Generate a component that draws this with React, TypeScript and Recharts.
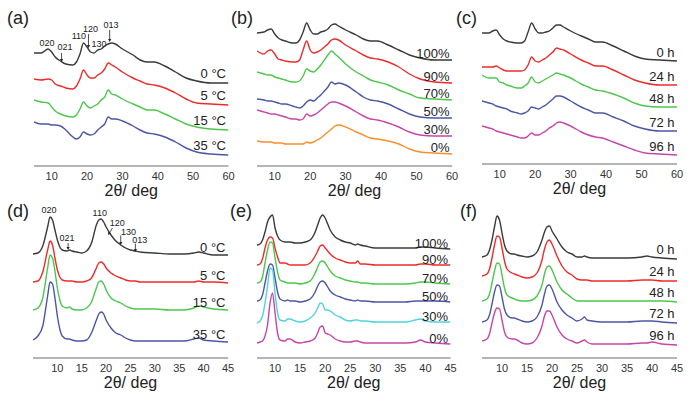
import React from 'react';
import { LineChart, Line, XAxis, YAxis, ReferenceLine, ReferenceDot, Label } from 'recharts';

const FONT = '"Liberation Sans", Arial, Helvetica, sans-serif';
const FRAME = '#6b6b6b';
const COL = {
  black: '#3a3a3a', red: '#ee2b2b', green: '#4cc74c', blue: '#4b56a6',
  magenta: '#c745a8', orange: '#f7902a', cyan: '#4fd3dc',
};

// ---------- Panel (a): temperature, wide range ----------
const xA = [5, 7, 9, 10, 11, 12.5, 14, 16, 17, 18, 19, 20, 21, 22, 23, 24, 25, 26, 27, 28, 30, 33, 35, 37, 39, 42, 45, 48, 51, 55, 60];
const a0C = [113, 113, 117, 114, 109, 105, 102, 101, 104, 112, 123, 119, 114, 113, 116, 117, 120, 122, 123, 122, 117, 111, 106, 104, 104, 100, 94, 88, 85, 83, 83];
const a5C = [87, 86, 87, 86, 82, 80, 78, 77, 80, 87, 96, 91, 88, 88, 91, 93, 97, 103, 101, 99, 94, 88, 85, 82, 81, 78, 73, 67, 63, 62, 61];
const a15C = [66, 64, 63, 59, 55, 52, 50, 49, 51, 57, 64, 60, 58, 60, 62, 66, 69, 76, 72, 71, 67, 62, 59, 56, 56, 52, 47, 42, 39, 37, 36];
const a35C = [44, 42, 42, 41, 41, 40, 36, 29, 27, 29, 34, 32, 31, 32, 36, 39, 42, 49, 47, 47, 45, 40, 36, 33, 32, 29, 24, 18, 14, 12, 11];
const tempLabels = ['0 °C', '5 °C', '15 °C', '35 °C'];

// ---------- Panel (b): humidity, wide range ----------
const xB = [5, 7, 8, 9, 10, 11, 12, 13, 15, 16, 17, 18, 19, 20, 21, 22, 23, 24, 25, 26, 27, 28, 30, 33, 35, 37, 39, 42, 45, 48, 51, 55, 60];
const b100 = [133, 134, 136, 137, 132, 128, 126, 125, 123, 123, 126, 134, 143, 136, 132, 132, 134, 135, 137, 141, 142, 140, 136, 131, 127, 125, 125, 121, 116, 111, 108, 106, 106];
const b90 = [115, 112, 115, 116, 112, 107, 106, 105, 104, 104, 106, 116, 125, 116, 113, 114, 116, 119, 122, 126, 127, 126, 121, 115, 111, 108, 107, 104, 99, 92, 87, 84, 83];
const b70 = [94, 92, 91, 91, 89, 88, 87, 86, 84, 84, 85, 90, 97, 95, 94, 97, 101, 106, 111, 115, 112, 109, 102, 94, 90, 86, 84, 81, 76, 72, 68, 67, 66];
const b50 = [67, 66, 65, 65, 64, 63, 62, 62, 60, 59, 58, 60, 64, 66, 65, 68, 71, 75, 79, 84, 82, 83, 81, 74, 69, 66, 65, 62, 57, 52, 49, 48, 48];
const b30 = [56, 54, 53, 52, 52, 51, 50, 49, 47, 47, 46, 47, 52, 50, 51, 53, 56, 59, 62, 64, 64, 63, 60, 54, 50, 47, 46, 43, 39, 34, 31, 30, 30];
const b0 = [25, 24, 24, 24, 23, 23, 23, 22, 22, 22, 22, 22, 24, 23, 24, 26, 28, 31, 34, 37, 40, 41, 39, 34, 31, 28, 27, 25, 22, 17, 14, 13, 12];
const humLabels = ['100%', '90%', '70%', '50%', '30%', '0%'];

// ---------- Panel (c): time, wide range ----------
const xC = xB;
const c0 = [131, 131, 133, 134, 129, 125, 123, 122, 121, 121, 123, 132, 141, 135, 131, 131, 132, 133, 136, 139, 139, 137, 133, 128, 125, 122, 122, 118, 113, 108, 105, 104, 103];
const c24 = [97, 97, 97, 98, 96, 94, 93, 93, 93, 93, 94, 99, 107, 103, 102, 104, 106, 109, 112, 116, 115, 114, 110, 104, 101, 98, 98, 94, 89, 84, 81, 79, 79];
const c48 = [89, 86, 86, 86, 82, 81, 79, 78, 76, 76, 78, 81, 87, 82, 81, 83, 85, 87, 89, 91, 90, 89, 86, 80, 77, 74, 73, 70, 66, 61, 58, 57, 57];
const c72 = [63, 61, 60, 58, 57, 56, 55, 53, 51, 50, 51, 53, 57, 56, 55, 57, 59, 62, 65, 68, 68, 67, 63, 57, 54, 51, 51, 47, 43, 38, 35, 33, 33];
const c96 = [38, 36, 35, 33, 32, 31, 30, 29, 27, 26, 26, 28, 31, 29, 29, 31, 33, 36, 38, 41, 42, 41, 38, 32, 29, 27, 26, 22, 18, 14, 11, 10, 9];
const timeLabels = ['0 h', '24 h', '48 h', '72 h', '96 h'];

// ---------- Panel (d): temperature, narrow range ----------
const xD = [5, 6, 7, 8, 8.5, 9, 9.5, 10, 10.5, 11, 12, 12.5, 13, 14, 15, 16, 17, 18, 18.5, 19, 19.5, 20, 21, 22, 23, 24, 25, 26, 27, 30, 33, 36, 38, 39, 40, 42, 45];
const d0C = [104, 105, 112, 131, 141, 138, 128, 118, 111, 108, 107, 108, 107, 106, 105, 107, 115, 133, 138, 139, 136, 131, 123, 117, 113, 110, 108, 107, 106, 105, 104, 104, 105, 106, 105, 103, 103];
const d5C = [76, 77, 86, 108, 117, 113, 100, 88, 81, 78, 77, 77, 77, 76, 76, 77, 80, 90, 95, 96, 94, 90, 85, 82, 80, 78, 77, 77, 76, 76, 76, 76, 76, 77, 76, 76, 75];
const d15C = [48, 50, 60, 90, 103, 100, 87, 70, 58, 52, 50, 51, 49, 48, 48, 50, 56, 70, 76, 77, 74, 68, 60, 57, 55, 52, 50, 49, 49, 49, 48, 48, 50, 52, 51, 49, 48];
const d35C = [18, 22, 32, 62, 76, 74, 60, 42, 29, 22, 19, 19, 18, 17, 17, 18, 25, 38, 44, 46, 44, 38, 30, 25, 23, 20, 18, 17, 17, 17, 17, 17, 19, 20, 18, 17, 16];

// ---------- Panel (e): humidity, narrow range ----------
const xE = [6.4, 7, 7.5, 8, 8.5, 9, 9.5, 10, 10.5, 11, 12, 12.5, 13, 14, 15, 16, 17, 18, 18.5, 19, 19.5, 20, 20.5, 21, 22, 23, 24, 25, 26, 26.5, 27, 28, 30, 33, 36, 38, 39, 40, 42, 45];
const e100 = [113, 114, 118, 126, 136, 141, 143, 130, 122, 118, 116, 116, 116, 115, 115, 116, 118, 126, 133, 140, 143, 140, 134, 128, 121, 118, 116, 115, 113, 114, 113, 112, 110, 110, 110, 110, 111, 111, 110, 109];
const e90 = [93, 94, 99, 110, 118, 121, 120, 110, 101, 95, 95, 94, 93, 93, 93, 93, 95, 102, 107, 112, 113, 110, 107, 104, 100, 98, 96, 95, 95, 97, 94, 94, 93, 93, 93, 93, 94, 94, 93, 93];
const e70 = [75, 76, 81, 95, 108, 116, 115, 100, 86, 78, 76, 75, 75, 75, 74, 75, 77, 85, 91, 96, 97, 95, 91, 87, 82, 80, 78, 77, 76, 76, 75, 75, 74, 74, 74, 75, 76, 76, 75, 74];
const e50 = [57, 58, 63, 75, 87, 94, 93, 80, 66, 59, 57, 58, 57, 57, 56, 57, 59, 66, 72, 76, 77, 75, 71, 67, 63, 61, 59, 58, 57, 58, 57, 57, 56, 56, 56, 57, 57, 57, 57, 56];
const e30 = [35, 37, 42, 55, 72, 90, 88, 65, 45, 38, 37, 39, 39, 37, 36, 37, 40, 45, 50, 55, 54, 48, 48, 47, 43, 41, 38, 37, 38, 38, 37, 37, 36, 36, 36, 38, 39, 37, 36, 36];
const e0 = [15, 16, 17, 22, 33, 55, 65, 45, 25, 18, 17, 19, 19, 16, 15, 16, 17, 20, 25, 31, 32, 25, 24, 23, 19, 17, 16, 16, 17, 17, 16, 15, 15, 15, 15, 16, 18, 16, 15, 14];

// ---------- Panel (f): time, narrow range ----------
const xF = [6, 7, 7.5, 8, 8.5, 9, 9.5, 10, 10.5, 11, 12, 12.5, 13, 14, 15, 16, 17, 18, 18.5, 19, 19.5, 20, 21, 22, 23, 24, 25, 26, 26.5, 27, 28, 30, 35, 38, 39, 40, 42, 45];
const f0 = [101, 103, 108, 118, 131, 142, 138, 125, 113, 107, 104, 104, 103, 102, 101, 102, 106, 118, 126, 131, 132, 127, 119, 111, 106, 104, 101, 101, 102, 101, 100, 100, 100, 101, 102, 101, 100, 99];
const f24 = [82, 84, 89, 100, 113, 122, 121, 110, 97, 89, 85, 84, 83, 81, 80, 81, 85, 98, 109, 116, 118, 114, 102, 92, 86, 83, 79, 78, 78, 78, 77, 77, 77, 78, 78, 78, 77, 77];
const f48 = [57, 59, 64, 75, 87, 95, 94, 83, 70, 63, 60, 59, 58, 57, 57, 58, 62, 73, 84, 91, 92, 88, 76, 68, 64, 60, 57, 57, 57, 57, 57, 57, 57, 57, 57, 57, 57, 56];
const f72 = [36, 38, 43, 54, 66, 73, 72, 61, 49, 43, 40, 40, 39, 37, 36, 37, 41, 53, 64, 72, 73, 69, 56, 48, 43, 40, 37, 39, 41, 38, 37, 36, 36, 37, 37, 37, 36, 35];
const f96 = [17, 19, 24, 35, 45, 50, 49, 38, 26, 21, 19, 19, 18, 15, 14, 15, 20, 32, 42, 47, 47, 43, 31, 23, 19, 17, 15, 17, 18, 16, 14, 14, 14, 15, 15, 16, 14, 13];

// ---------- ticks ----------
const majorWide = [10, 20, 30, 40, 50, 60];
const minorWide = [5, 15, 25, 35, 45, 55];
const majorNarrow = [10, 15, 20, 25, 30, 35, 40, 45];
const minorNarrow = [7.5, 12.5, 17.5, 22.5, 27.5, 32.5, 37.5, 42.5];

// ---------- reflection annotations (data coordinates) ----------
const hklA = [
  { t: '020', x: 8.7, y: 120 }, { t: '021', x: 13.8, y: 116 }, { t: '110', x: 17.7, y: 127 },
  { t: '120', x: 21.0, y: 134 }, { t: '130', x: 23.4, y: 119 }, { t: '013', x: 26.8, y: 138 },
];
const arrowsA = [
  { x1: 12.8, y1: 113, x2: 12.8, y2: 104 },
  { x1: 20.4, y1: 132, x2: 20.4, y2: 118 },
  { x1: 26.4, y1: 136, x2: 26.4, y2: 124 },
];
const hklD = [
  { t: '020', x: 8.3, y: 145 }, { t: '021', x: 12.0, y: 117 }, { t: '110', x: 18.7, y: 142 },
  { t: '120', x: 22.3, y: 132 }, { t: '130', x: 24.6, y: 123.5 }, { t: '013', x: 26.9, y: 115.5 },
];
const arrowsD = [
  { x1: 12.2, y1: 115, x2: 12.2, y2: 108 },
  { x1: 21.3, y1: 130, x2: 20.4, y2: 123 },
  { x1: 23.0, y1: 122.5, x2: 23.0, y2: 113 },
  { x1: 26.0, y1: 114.5, x2: 26.0, y2: 106 },
];

const mk = (keys: string[], names: string[], colors: string[], vals: number[][]) =>
  keys.map((k, i) => ({ key: k, name: names[i], color: colors[i], values: vals[i] }));

const panels = [
  {
    id: 'a', x: xA, domain: [5, 60], major: majorWide, minor: minorWide,
    box: { left: 33.5, top: 10, w: 194.5, h: 156 }, labelDy: 5,
    series: mk(['s0', 's5', 's15', 's35'], tempLabels, [COL.black, COL.red, COL.green, COL.blue], [a0C, a5C, a15C, a35C]),
    hkl: hklA, arrows: arrowsA,
  },
  {
    id: 'b', x: xB, domain: [5, 60], major: majorWide, minor: minorWide,
    box: { left: 256.5, top: 12, w: 195, h: 154 }, labelDy: 2,
    series: mk(['h100', 'h90', 'h70', 'h50', 'h30', 'h0'], humLabels,
      [COL.black, COL.red, COL.green, COL.blue, COL.magenta, COL.orange], [b100, b90, b70, b50, b30, b0]),
    hkl: [], arrows: [],
  },
  {
    id: 'c', x: xC, domain: [5, 60], major: majorWide, minor: minorWide,
    box: { left: 481.5, top: 10, w: 195, h: 154 }, labelDy: 4,
    series: mk(['t0', 't24', 't48', 't72', 't96'], timeLabels,
      [COL.black, COL.red, COL.green, COL.blue, COL.magenta], [c0, c24, c48, c72, c96]),
    hkl: [], arrows: [],
  },
  {
    id: 'd', x: xD, domain: [5, 45], major: majorNarrow, minor: minorNarrow,
    box: { left: 33, top: 208, w: 195, h: 150 }, labelDy: 3.5,
    series: mk(['s0', 's5', 's15', 's35'], tempLabels, [COL.black, COL.red, COL.green, COL.blue], [d0C, d5C, d15C, d35C]),
    hkl: hklD, arrows: arrowsD,
  },
  {
    id: 'e', x: xE, domain: [6.4, 45], major: majorNarrow, minor: minorNarrow,
    box: { left: 256.5, top: 205, w: 193.5, h: 153 }, labelDy: 1.2,
    series: mk(['h100', 'h90', 'h70', 'h50', 'h30', 'h0'], humLabels,
      [COL.black, COL.red, COL.green, COL.blue, COL.cyan, COL.magenta], [e100, e90, e70, e50, e30, e0]),
    hkl: [], arrows: [],
  },
  {
    id: 'f', x: xF, domain: [6, 45], major: majorNarrow, minor: minorNarrow,
    box: { left: 481.5, top: 205, w: 195, h: 153 }, labelDy: 5,
    series: mk(['t0', 't24', 't48', 't72', 't96'], timeLabels,
      [COL.black, COL.red, COL.green, COL.blue, COL.magenta], [f0, f24, f48, f72, f96]),
    hkl: [], arrows: [],
  },
];

const panelLetters = [
  { t: '(a)', x: 7, y: 23.5 }, { t: '(b)', x: 231, y: 23.5 }, { t: '(c)', x: 456, y: 23.5 },
  { t: '(d)', x: 7, y: 216.5 }, { t: '(e)', x: 230, y: 216.5 }, { t: '(f)', x: 460, y: 216.5 },
];

const titleContent = (props: any) => {
  const vb = props.viewBox || { x: 0, y: 0, width: 0 };
  return (
    <text x={vb.x + vb.width / 2} y={vb.y + 30} textAnchor="middle" fontSize={16} fill="#222" fontFamily={FONT}>
      2θ/ deg
    </text>
  );
};

const seriesLabel = (dy: number) => (props: any) => {
  const vb = props.viewBox || { x: 0, y: 0, width: 0, height: 0 };
  const cx = vb.x + (vb.width || 0) / 2;
  const cy = vb.y + (vb.height || 0) / 2;
  return (
    <text x={cx - 2.5} y={cy - dy} textAnchor="end" fontSize={13} fill="#222" fontFamily={FONT}>
      {props.value}
    </text>
  );
};

const hklLabel = (props: any) => {
  const vb = props.viewBox || { x: 0, y: 0, width: 0, height: 0 };
  const cx = vb.x + (vb.width || 0) / 2;
  const cy = vb.y + (vb.height || 0) / 2;
  return (
    <text x={cx} y={cy} textAnchor="middle" fontSize={9} fill="#222" fontFamily={FONT}>
      {props.value}
    </text>
  );
};

const arrowShape = (props: any) => {
  const { x1, y1, x2, y2 } = props;
  if ([x1, y1, x2, y2].some((v) => typeof v !== 'number' || isNaN(v))) return <g />;
  const ang = Math.atan2(y2 - y1, x2 - x1);
  const s = 3;
  const w = 1.6;
  const bx = x2 - s * Math.cos(ang);
  const by = y2 - s * Math.sin(ang);
  const px = -Math.sin(ang) * w;
  const py = Math.cos(ang) * w;
  return (
    <g>
      <line x1={x1} y1={y1} x2={bx} y2={by} stroke="#222" strokeWidth={0.8} />
      <polygon points={`${x2},${y2} ${bx + px},${by + py} ${bx - px},${by - py}`} fill="#222" />
    </g>
  );
};

function Panel({ p }: any) {
  const data = p.x.map((x: number, i: number) => {
    const row: any = { x };
    p.series.forEach((s: any) => { row[s.key] = s.values[i]; });
    return row;
  });
  const mL = 14, mR = 14, mT = 4, xH = 36;
  const W = p.box.w + mL + mR;
  const H = p.box.h + mT + xH;
  const xMax = p.domain[1];
  const tickStyle = { fontSize: 11, fill: '#333', fontFamily: FONT };
  const yDom = [0, p.box.h];
  return (
    <div style={{ position: 'absolute', left: p.box.left - mL, top: p.box.top - mT, width: W, height: H }}>
      <LineChart width={W} height={H} data={data} margin={{ top: mT, right: mR, bottom: 0, left: mL }}>
        <XAxis xAxisId="b" dataKey="x" type="number" domain={p.domain} allowDataOverflow ticks={p.major}
          interval={0} height={xH} tickLine={false} tickSize={0} tickMargin={6}
          axisLine={{ stroke: FRAME, strokeWidth: 1 }} tick={tickStyle}>
          <Label value="2θ/ deg" content={titleContent} />
        </XAxis>
        <XAxis xAxisId="bM" type="number" domain={p.domain} allowDataOverflow ticks={p.major} interval={0}
          mirror height={0} tick={false} tickSize={4} axisLine={false} tickLine={{ stroke: FRAME }} />
        <XAxis xAxisId="bm" type="number" domain={p.domain} allowDataOverflow ticks={p.minor} interval={0}
          mirror height={0} tick={false} tickSize={2} axisLine={false} tickLine={{ stroke: FRAME }} />
        <XAxis xAxisId="tM" orientation="top" type="number" domain={p.domain} allowDataOverflow ticks={p.major}
          interval={0} mirror height={0} tick={false} tickSize={4} axisLine={{ stroke: FRAME }} tickLine={{ stroke: FRAME }} />
        <XAxis xAxisId="tm" orientation="top" type="number" domain={p.domain} allowDataOverflow ticks={p.minor}
          interval={0} mirror height={0} tick={false} tickSize={2} axisLine={false} tickLine={{ stroke: FRAME }} />
        <YAxis yAxisId="l" type="number" domain={yDom} allowDataOverflow width={0} tick={false} tickLine={false}
          axisLine={{ stroke: FRAME }} />
        <YAxis yAxisId="r" orientation="right" mirror type="number" domain={yDom} allowDataOverflow width={0}
          tick={false} tickLine={false} axisLine={{ stroke: FRAME }} />
        {p.series.map((s: any) => (
          <Line key={s.key} xAxisId="b" yAxisId="l" dataKey={s.key} type="monotone" stroke={s.color}
            strokeWidth={1.4} dot={false} activeDot={false} isAnimationActive={false} />
        ))}
        {p.series.map((s: any) => (
          <ReferenceDot key={'lab-' + s.key} xAxisId="b" yAxisId="l" x={xMax} y={s.values[s.values.length - 1]}
            r={0} fill="none" stroke="none" ifOverflow="visible"
            label={{ value: s.name, content: seriesLabel(p.labelDy) }} />
        ))}
        {p.arrows.map((a: any, i: number) => (
          <ReferenceLine key={'arr-' + i} xAxisId="b" yAxisId="l" ifOverflow="visible"
            segment={[{ x: a.x1, y: a.y1 }, { x: a.x2, y: a.y2 }]} shape={arrowShape} />
        ))}
        {p.hkl.map((h: any, i: number) => (
          <ReferenceDot key={'hkl-' + i} xAxisId="b" yAxisId="l" x={h.x} y={h.y} r={0} fill="none" stroke="none"
            ifOverflow="visible" label={{ value: h.t, content: hklLabel }} />
        ))}
      </LineChart>
    </div>
  );
}

export default function App() {
  return (
    <div style={{ position: 'absolute', left: 0, top: 0, width: 700, height: 399, background: '#fff', overflow: 'hidden', fontFamily: FONT }}>
      {panels.map((p) => <Panel key={p.id} p={p} />)}
      <svg width={700} height={399} style={{ position: 'absolute', left: 0, top: 0, pointerEvents: 'none' }}>
        {panelLetters.map((l) => (
          <text key={l.t} x={l.x} y={l.y} fontSize={18} fill="#222" fontFamily={FONT}>{l.t}</text>
        ))}
      </svg>
    </div>
  );
}
